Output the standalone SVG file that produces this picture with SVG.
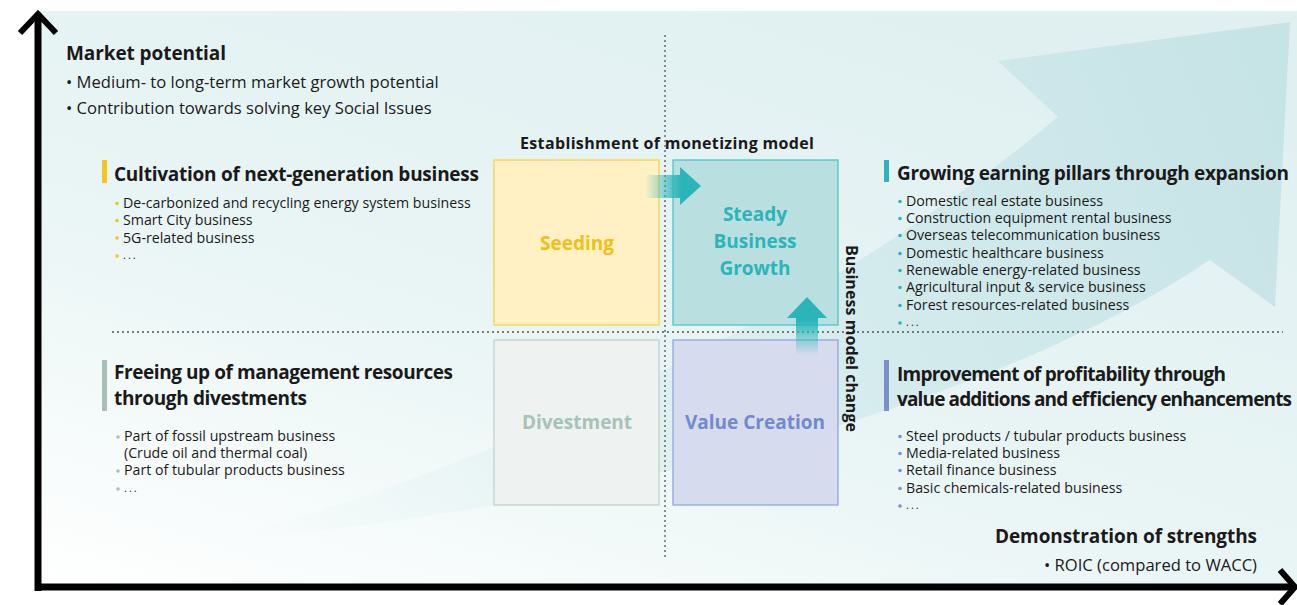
<svg xmlns="http://www.w3.org/2000/svg" width="1297" height="605" viewBox="0 0 1297 605">
<defs>
<linearGradient id="bg" x1="0" y1="1" x2="0.7" y2="0">
<stop offset="0" stop-color="#ffffff"/>
<stop offset="0.45" stop-color="#eaf5f5"/>
<stop offset="1" stop-color="#e0f0f1"/>
</linearGradient>
<linearGradient id="bigarrow" x1="215" y1="540" x2="1290" y2="100" gradientUnits="userSpaceOnUse">
<stop offset="0" stop-color="#e6f3f4" stop-opacity="0"/>
<stop offset="0.55" stop-color="#d6ecee"/>
<stop offset="1" stop-color="#c6e3e6"/>
</linearGradient>
<linearGradient id="harr" x1="645" y1="0" x2="701" y2="0" gradientUnits="userSpaceOnUse">
<stop offset="0" stop-color="#2bb5b8" stop-opacity="0"/>
<stop offset="0.65" stop-color="#2bb5b8"/>
<stop offset="1" stop-color="#2bb5b8"/>
</linearGradient>
<linearGradient id="varr" x1="0" y1="355" x2="0" y2="297" gradientUnits="userSpaceOnUse">
<stop offset="0" stop-color="#2bb5b8" stop-opacity="0"/>
<stop offset="0.6" stop-color="#2bb5b8"/>
<stop offset="1" stop-color="#2bb5b8"/>
</linearGradient>
</defs>
<style>
text{font-family:"Open Sans","Noto Sans","Liberation Sans",sans-serif;fill:#1a1a1a}
.h{font-weight:700;font-size:19px}
.hm{font-weight:700;font-size:16px}
.b{font-size:16.6px}
.s{font-size:14.2px}
.d{font-size:11px;letter-spacing:2px}
.box{stroke-width:1.3}
.lbl{font-weight:700;font-size:19px;text-anchor:middle}
.dot{stroke:#555;stroke-width:1.3;stroke-dasharray:2 3;fill:none}
.axis{stroke:#000;stroke-width:7;fill:none;stroke-linecap:butt}
.ah{stroke:#000;stroke-width:6;fill:none;stroke-linejoin:miter}
</style>
<rect x="0" y="0" width="1297" height="605" fill="#ffffff"/>
<rect x="38" y="11" width="1259" height="574" fill="url(#bg)"/>
<path d="M1290 22 L998 61 L1058 117 C850 290 550 450 215 542 C650 500 1000 400 1210 260 L1275 307 Z" fill="url(#bigarrow)"/>

<g id="grid">
<line class="dot" x1="665" y1="35" x2="665" y2="560"/>
<line class="dot" x1="112" y1="332" x2="1283" y2="332"/>
</g>

<g id="axes">
<line class="axis" x1="38" y1="16" x2="38" y2="591"/>
<polyline class="ah" points="20,33 38,14 56,33"/>
<line class="axis" x1="35" y1="587" x2="1294" y2="587"/>
<polyline class="ah" points="1280,570 1295,587 1280,604"/>
</g>

<g id="market-potential">
<text class="h" x="66" y="60" textLength="160">Market potential</text>
<text class="b" x="66" y="88">• Medium- to long-term market growth potential</text>
<text class="b" x="66" y="114">• Contribution towards solving key Social Issues</text>
</g>

<g id="strengths">
<text class="h" x="995" y="543" textLength="262">Demonstration of strengths</text>
<text class="b" x="1257" y="571" text-anchor="end">• ROIC (compared to WACC)</text>
</g>

<g id="establishment">
<text class="hm" x="520" y="149" textLength="294">Establishment of monetizing model</text>
</g>

<g id="business-model-change">
<text class="hm" x="0" y="0" textLength="187" transform="translate(846 245) rotate(90)">Business model change</text>
</g>

<g id="seeding">
<rect class="box" x="494" y="160" width="165" height="165" fill="#fff1c3" stroke="#f7d24a"/>
<text class="lbl" x="577" y="250" style="fill:#f0bf1a">Seeding</text>
</g>

<g id="steady">
<rect class="box" x="673" y="160" width="165" height="165" fill="#b9dfe1" stroke="#52c3c6"/>
<text class="lbl" x="755" y="221" style="fill:#2bb5b8">Steady</text>
<text class="lbl" x="755" y="248" style="fill:#2bb5b8">Business</text>
<text class="lbl" x="755" y="275" style="fill:#2bb5b8">Growth</text>
</g>

<g id="divestment">
<rect class="box" x="494" y="340" width="165" height="165" fill="#eef3f1" stroke="#c0d1cb"/>
<text class="lbl" x="577" y="429" style="fill:#a6c2b9">Divestment</text>
</g>

<g id="value-creation">
<rect class="box" x="673" y="340" width="165" height="165" fill="#d7dbee" stroke="#93a6da"/>
<text class="lbl" x="755" y="429" style="fill:#6f8bcc">Value Creation</text>
</g>

<g id="connectors">
<path d="M645 175 H680 V167 L701 186 L680 205 V198 H645 Z" fill="url(#harr)"/>
<path d="M796 355 V318 H787 L807 297 L827 318 H818 V355 Z" fill="url(#varr)"/>
</g>

<g id="cultivation">
<rect x="102" y="160" width="5" height="23" fill="#f5c518"/>
<text class="h" x="114" y="181" textLength="365">Cultivation of next-generation business</text>
<g fill="#f5c518"><circle cx="117" cy="203.5" r="1.8"/><circle cx="117" cy="220.5" r="1.8"/><circle cx="117" cy="238" r="1.8"/><circle cx="117" cy="256" r="1.8"/></g>
<text class="s" x="123" y="208">De-carbonized and recycling energy system business</text>
<text class="s" x="123" y="225">Smart City business</text>
<text class="s" x="123" y="243">5G-related business</text>
<text class="d" x="123" y="259">...</text>
</g>

<g id="freeing">
<rect x="102" y="360" width="5" height="51" fill="#a9bfb6"/>
<text class="h" x="114" y="379" textLength="339">Freeing up of management resources</text>
<text class="h" x="114" y="405" textLength="193">through divestments</text>
<g fill="#a9bfb6"><circle cx="118" cy="437" r="1.8"/><circle cx="118" cy="471" r="1.8"/><circle cx="118" cy="489" r="1.8"/></g>
<text class="s" x="124" y="441">Part of fossil upstream business</text>
<text class="s" x="124" y="458">(Crude oil and thermal coal)</text>
<text class="s" x="124" y="475">Part of tubular products business</text>
<text class="d" x="124" y="492">...</text>
</g>

<g id="growing">
<rect x="884" y="160" width="5" height="22" fill="#2bb5b8"/>
<text class="h" x="897" y="180" textLength="392">Growing earning pillars through expansion</text>
<g fill="#2bb5b8"><circle cx="900" cy="201.5" r="1.8"/><circle cx="900" cy="218.5" r="1.8"/><circle cx="900" cy="235.5" r="1.8"/><circle cx="900" cy="253.5" r="1.8"/><circle cx="900" cy="270.5" r="1.8"/><circle cx="900" cy="287.5" r="1.8"/><circle cx="900" cy="305.5" r="1.8"/><circle cx="900" cy="323" r="1.8"/></g>
<text class="s" x="906" y="206">Domestic real estate business</text>
<text class="s" x="906" y="223">Construction equipment rental business</text>
<text class="s" x="906" y="240">Overseas telecommunication business</text>
<text class="s" x="906" y="258">Domestic healthcare business</text>
<text class="s" x="906" y="275">Renewable energy-related business</text>
<text class="s" x="906" y="292">Agricultural input &amp; service business</text>
<text class="s" x="906" y="310">Forest resources-related business</text>
<text class="d" x="906" y="326">...</text>
</g>

<g id="improvement">
<rect x="884" y="360" width="5" height="51" fill="#7b8fcb"/>
<text class="h" x="897" y="381" textLength="329">Improvement of profitability through</text>
<text class="h" x="897" y="406" textLength="395">value additions and efficiency enhancements</text>
<g fill="#7b8fcb"><circle cx="900" cy="436.5" r="1.8"/><circle cx="900" cy="453.5" r="1.8"/><circle cx="900" cy="470.5" r="1.8"/><circle cx="900" cy="488.5" r="1.8"/><circle cx="900" cy="506" r="1.8"/></g>
<text class="s" x="906" y="441">Steel products / tubular products business</text>
<text class="s" x="906" y="458">Media-related business</text>
<text class="s" x="906" y="475">Retail finance business</text>
<text class="s" x="906" y="493">Basic chemicals-related business</text>
<text class="d" x="906" y="509">...</text>
</g>
</svg>
